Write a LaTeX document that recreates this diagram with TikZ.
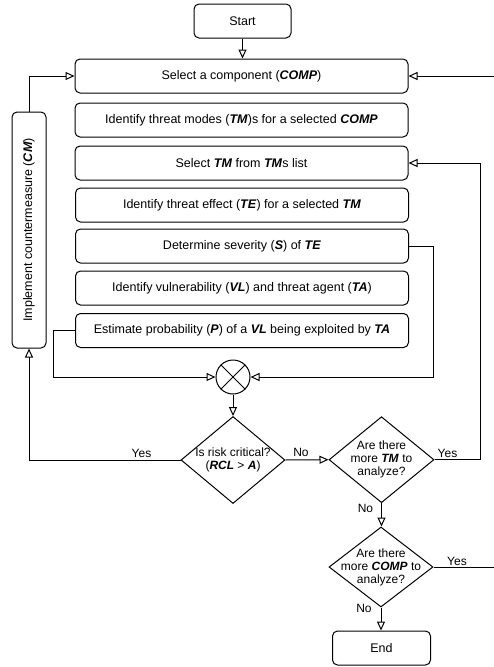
\documentclass[tikz,border=0pt]{standalone}
\usepackage{fontspec}
\setmainfont{Liberation Sans}
\usetikzlibrary{shapes.geometric,arrows.meta}
\newcommand\bfit[1]{\textbf{\textit{#1}}}
\begin{document}
\begin{tikzpicture}[x=1pt,y=-1pt,
 box/.style={draw, rounded corners=5pt, line width=1pt, inner sep=0pt, font=\fontsize{12.5}{15}\selectfont},
 dia/.style={draw, diamond, line width=1pt, inner sep=0pt},
 dtext/.style={font=\fontsize{12}{13}\selectfont, align=center, inner sep=0pt},
 arr/.style={line width=1pt, -{Triangle[open,length=9pt,width=8pt]}},
 plain/.style={line width=1pt},
 lbl/.style={font=\fontsize{12}{14}\selectfont, inner sep=0pt}]
\useasboundingbox (0,0) rectangle (494,667);
% boxes
\node[box, minimum width=97pt, minimum height=34pt] (start) at (242.5,21) {Start};
\node[box, minimum width=333pt, minimum height=34pt] (comp) at (241.5,76) {Select a component (\bfit{COMP})};
\node[box, minimum width=333pt, minimum height=34pt] (tms) at (241.5,120) {Identify threat modes (\bfit{TM})s for a selected \bfit{COMP}};
\node[box, minimum width=333pt, minimum height=34pt] (seltm) at (241.5,163) {Select \bfit{TM} from \bfit{TM}s list};
\node[box, minimum width=333pt, minimum height=34pt] (te) at (242,205) {Identify threat effect (\bfit{TE}) for a selected \bfit{TM}};
\node[box, minimum width=333pt, minimum height=34pt] (sev) at (242,246) {Determine severity (\bfit{S}) of \bfit{TE}};
\node[box, minimum width=333pt, minimum height=34pt] (vl) at (242,288) {Identify vulnerability (\bfit{VL}) and threat agent (\bfit{TA})};
\node[box, minimum width=333pt, minimum height=34pt] (prob) at (242,330.5) {Estimate probability (\bfit{P}) of a \bfit{VL} being exploited by \bfit{TA}};
\node[box, rotate=90, minimum width=236pt, minimum height=34pt] (cm) at (29,230) {Implement countermeasure (\bfit{CM})};
\node[box, minimum width=98pt, minimum height=34pt] (end) at (381.5,648) {End};
% mixer
\node[draw, circle, line width=1pt, minimum size=34pt, inner sep=0pt] (mix) at (233,377) {};
\draw[plain] (mix.north west) -- (mix.south east);
\draw[plain] (mix.north east) -- (mix.south west);
% diamonds
\node[dia, minimum width=104pt, minimum height=87pt, label={[dtext]center:{Is risk critical?\\(\bfit{RCL} > \bfit{A})}}] (riskd) at (233,460) {};
\node[dia, minimum width=105pt, minimum height=86pt, label={[dtext]center:{Are there\\more \bfit{TM} to\\analyze?}}] (tmd) at (381.5,459.7) {};
\node[dia, minimum width=104pt, minimum height=80pt, label={[dtext]center:{Are there\\more \bfit{COMP} to\\analyze?}}] (compd) at (381,567) {};
% helper coordinates
\coordinate (rr) at (497,0);
\coordinate (ry) at (480,0);
\coordinate (sx) at (433.5,0);
\coordinate (px) at (53.7,0);
% connectors
\draw[arr] (start.south) -- (start.south |- comp.north);
\draw[arr] (cm.east) |- (comp.west);
\draw[arr] (compd.east) -- (rr |- compd.east) -- (rr |- comp.east) -- (comp.east);
\draw[arr] (tmd.east) -- (ry |- tmd.east) -- (ry |- seltm.east) -- (seltm.east);
\draw[arr] (sev.east) -- (sx |- sev.east) -- (sx |- mix.east) -- (mix.east);
\draw[arr] (prob.west) -- (px |- prob.west) -- (px |- mix.west) -- (mix.west);
\draw[arr] (mix.south) -- (mix.south |- riskd.north);
\draw[arr] (riskd.west) -| (cm.west);
\draw[arr] (riskd.east) -- (tmd.west);
\draw[arr] (tmd.south) -- (tmd.south |- compd.north);
\draw[arr] (compd.south) -- (compd.south |- end.north);
% labels
\node[lbl] (yes1) at (141.5,453.5) {Yes};
\node[lbl] (no1) at (301,452.5) {No};
\node[lbl] (yes2) at (447.5,453.5) {Yes};
\node[lbl] (no2) at (365.5,508) {No};
\node[lbl] (yes3) at (457,561) {Yes};
\node[lbl] (no3) at (364,608) {No};
\end{tikzpicture}
\end{document}
